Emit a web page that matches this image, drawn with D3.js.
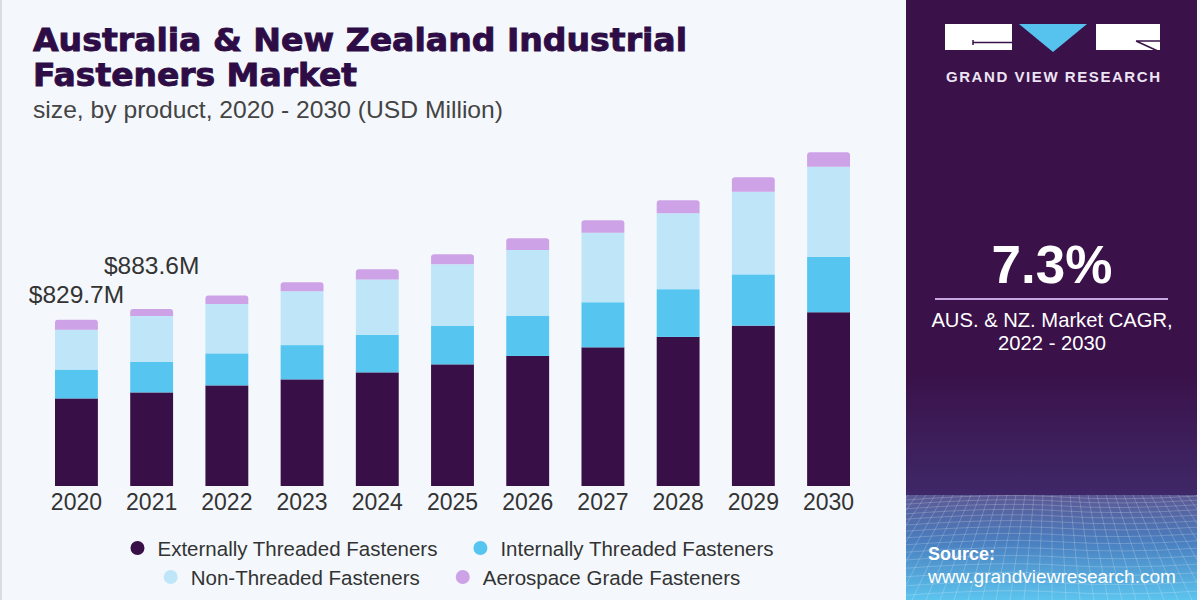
<!DOCTYPE html>
<html>
<head>
<meta charset="utf-8">
<script src="https://cdn.jsdelivr.net/npm/d3@7"></script>
<style>
  body { margin: 0; background: #f4f8fc; }
  svg { display: block; }
</style>
</head>
<body>
<svg id="chart" width="1200" height="600"></svg>
<script>
// values (USD Million)
var years = ['2020', '2021', '2022', '2023', '2024', '2025', '2026', '2027', '2028', '2029', '2030']
var externally = [437, 467, 502, 532, 567, 607, 649, 692, 744, 800, 867]
var internally = [144, 152, 160, 171, 188, 193, 201, 225, 238, 256, 277]
var nonThreaded = [199, 229, 246, 269, 276, 306, 328, 347, 379, 412, 449]
var aerospace = [49.7, 35.6, 43, 45, 50, 50, 58, 62, 65, 73, 72]
var seriesNames = ['Externally Threaded Fasteners', 'Internally Threaded Fasteners', 'Non-Threaded Fasteners', 'Aerospace Grade Fasteners']
var seriesColors = ['#380f47', '#56c6f1', '#bfe6f8', '#cda2e6']
var labelYears = ['2020', '2021']
var labelTexts = ['$829.7M', '$883.6M']

var svg = d3.select('#chart')
var width = +svg.attr('width')
var height = +svg.attr('height')

svg.append('rect').attr('width', width).attr('height', height).attr('fill', '#f4f8fc')
svg.append('rect').attr('x', 0).attr('width', 2).attr('height', height).attr('fill', '#d9dce3')

// ---- title block
var title = svg.append('g').attr('fill', '#2e0c45').attr('stroke', '#2e0c45').attr('stroke-width', 0.9)
    .style('font-family', 'DejaVu Sans').style('font-weight', 'bold').style('font-size', '32px')
title.append('text').attr('x', 33).attr('y', 51).text('Australia & New Zealand Industrial')
    .attr('textLength', 654).attr('lengthAdjust', 'spacingAndGlyphs')
title.append('text').attr('x', 33).attr('y', 86).text('Fasteners Market')
    .attr('textLength', 324).attr('lengthAdjust', 'spacingAndGlyphs')
svg.append('text').attr('x', 33).attr('y', 118)
    .style('font-family', 'Liberation Sans').style('font-size', '24px').attr('fill', '#444')
    .text('size, by product, 2020 - 2030 (USD Million)')
    .attr('textLength', 470).attr('lengthAdjust', 'spacingAndGlyphs')

// ---- stacked bars
var rows = years.map(function (y, i) {
    return { year: y, s0: externally[i], s1: internally[i], s2: nonThreaded[i], s3: aerospace[i] }
})
var keys = ['s0', 's1', 's2', 's3']
var stacked = d3.stack().keys(keys)(rows)

var xscale = d3.scaleBand().domain(years).range([55, 850]).paddingInner(0.43).paddingOuter(0)
var yscale = d3.scaleLinear().domain([0, 1700]).range([486, 145.3])

function roundTop(x, y0, w, h, r) {
    return 'M' + x + ',' + (y0 + h) + 'V' + (y0 + r) + 'Q' + x + ',' + y0 + ' ' + (x + r) + ',' + y0 +
        'H' + (x + w - r) + 'Q' + (x + w) + ',' + y0 + ' ' + (x + w) + ',' + (y0 + r) + 'V' + (y0 + h) + 'Z'
}

var bars = svg.append('g')
stacked.forEach(function (layer, li) {
    var g = bars.append('g').attr('fill', seriesColors[li])
    if (li < 3) {
        g.selectAll('rect').data(layer).enter().append('rect')
            .attr('x', function (d) { return xscale(d.data.year) })
            .attr('y', function (d) { return yscale(d[1]) })
            .attr('width', xscale.bandwidth())
            .attr('height', function (d) { return yscale(d[0]) - yscale(d[1]) })
    } else {
        g.selectAll('path').data(layer).enter().append('path')
            .attr('d', function (d) {
                return roundTop(xscale(d.data.year), yscale(d[1]), xscale.bandwidth(), yscale(d[0]) - yscale(d[1]), 3)
            })
    }
})

// value labels over first two bars, staggered
svg.append('g').selectAll('text').data(labelYears).enter().append('text')
    .attr('x', function (d) { return xscale(d) + xscale.bandwidth() / 2 })
    .attr('y', function (d, i) {
        var idx = years.indexOf(d)
        var total = externally[idx] + internally[idx] + nonThreaded[idx] + aerospace[idx]
        return yscale(total) - 17 - i * 18
    })
    .attr('text-anchor', 'middle')
    .style('font-family', 'Liberation Sans').style('font-size', '24.5px').attr('fill', '#333')
    .text(function (d, i) { return labelTexts[i] })

// x axis labels
var xaxis = svg.append('g').attr('transform', 'translate(0,486)')
    .call(d3.axisBottom(xscale).tickSize(0).tickPadding(24))
xaxis.select('.domain').remove()
xaxis.selectAll('text').attr('dy', 0)
    .style('font-family', 'Liberation Sans').style('font-size', '23px').attr('fill', '#333')

// ---- legend, two centred rows
var legendRows = [[0, 1], [2, 3]]
var legendY = [548, 577]
var centre = 452
legendRows.forEach(function (items, ri) {
    var g = svg.append('g')
    var xpos = 0
    items.forEach(function (si, k) {
        var item = g.append('g').attr('transform', 'translate(' + xpos + ',0)')
        item.append('circle').attr('cx', 7).attr('cy', legendY[ri]).attr('r', 7).attr('fill', seriesColors[si])
        var t = item.append('text').attr('x', 27).attr('y', legendY[ri] + 7.5)
            .style('font-family', 'Liberation Sans').style('font-size', '20.5px').attr('fill', '#333')
            .text(seriesNames[si])
        xpos += 27 + t.node().getComputedTextLength() + 36
    })
    var w = g.node().getBBox().width
    g.attr('transform', 'translate(' + (centre - w / 2) + ',0)')
})

// ---- right panel
var defs = svg.append('defs')
var pg = defs.append('linearGradient').attr('id', 'panelGrad').attr('x1', 0).attr('y1', 0).attr('x2', 0).attr('y2', 1)
pg.append('stop').attr('offset', 0).attr('stop-color', '#3a1149')
pg.append('stop').attr('offset', 0.75).attr('stop-color', '#3a1149')
pg.append('stop').attr('offset', 1).attr('stop-color', '#3f2868')
var gg = defs.append('linearGradient').attr('id', 'gridGrad').attr('x1', 0).attr('y1', 0).attr('x2', 0).attr('y2', 1)
gg.append('stop').attr('offset', 0).attr('stop-color', '#5b5894')
gg.append('stop').attr('offset', 0.45).attr('stop-color', '#4a7fc0')
gg.append('stop').attr('offset', 1).attr('stop-color', '#5cc4ee')
defs.append('clipPath').attr('id', 'gridClip').append('rect')
    .attr('x', 906).attr('y', 495).attr('width', 291).attr('height', 105)

var panel = svg.append('g')
panel.append('rect').attr('x', 906).attr('y', 0).attr('width', 291).attr('height', 495).attr('fill', 'url(#panelGrad)')
panel.append('rect').attr('x', 906).attr('y', 495).attr('width', 291).attr('height', 105).attr('fill', 'url(#gridGrad)')

// perspective grid decoration
var grid = panel.append('g').attr('clip-path', 'url(#gridClip)')
    .attr('stroke', '#ffffff').attr('stroke-opacity', 0.2).attr('stroke-width', 1).attr('fill', 'none')
d3.range(0, 16).forEach(function (k) {
    var yy = 497 + 4 * k + 0.2 * k * k
    grid.append('path').attr('d', 'M906,' + (yy + 3) + 'Q1000,' + (yy - 4) + ' 1060,' + yy + 'T1197,' + (yy - 1))
})
d3.range(-22, 23).forEach(function (k) {
    grid.append('line').attr('x1', 1052 + k * 9).attr('y1', 495).attr('x2', 1052 + k * 14).attr('y2', 600)
})

// logo
var logo = panel.append('g')
logo.append('rect').attr('x', 945).attr('y', 24).attr('width', 67).attr('height', 26).attr('fill', '#fff')
logo.append('path').attr('d', 'M1019,24H1087L1053,52Z').attr('fill', '#55c3ee')
logo.append('rect').attr('x', 1096).attr('y', 24).attr('width', 64).attr('height', 26).attr('fill', '#fff')
logo.append('path').attr('d', 'M973,40V45M973,42.5H1012').attr('stroke', '#3a1149').attr('stroke-width', 1.5)
logo.append('path').attr('d', 'M1136,41L1160,52M1136,41H1160').attr('stroke', '#3a1149').attr('stroke-width', 1.5)
logo.append('text').attr('x', 946).attr('y', 82).text('GRAND VIEW RESEARCH')
    .style('font-family', 'Liberation Sans').style('font-weight', 'bold').style('font-size', '15px')
    .attr('fill', '#ece4f4').attr('textLength', 214).attr('lengthAdjust', 'spacing')

// CAGR block
panel.append('text').attr('x', 1052).attr('y', 283).attr('text-anchor', 'middle')
    .style('font-family', 'Liberation Sans').style('font-weight', 'bold').style('font-size', '53px')
    .attr('fill', '#fff').text('7.3%')
panel.append('line').attr('x1', 935).attr('x2', 1168).attr('y1', 299).attr('y2', 299)
    .attr('stroke', '#c7a6e2').attr('stroke-width', 2)
panel.append('text').attr('x', 1052).attr('y', 327).attr('text-anchor', 'middle')
    .style('font-family', 'Liberation Sans').style('font-size', '20.2px')
    .attr('fill', '#fff').text('AUS. & NZ. Market CAGR,')
panel.append('text').attr('x', 1052).attr('y', 350).attr('text-anchor', 'middle')
    .style('font-family', 'Liberation Sans').style('font-size', '20.2px')
    .attr('fill', '#fff').text('2022 - 2030')

// source
panel.append('text').attr('x', 928).attr('y', 560)
    .style('font-family', 'Liberation Sans').style('font-weight', 'bold').style('font-size', '18px')
    .attr('fill', '#fff').text('Source:')
panel.append('text').attr('x', 928).attr('y', 583)
    .style('font-family', 'Liberation Sans').style('font-size', '18px')
    .attr('fill', '#fff').text('www.grandviewresearch.com')
    .attr('textLength', 248).attr('lengthAdjust', 'spacingAndGlyphs')
</script>
</body>
</html>
